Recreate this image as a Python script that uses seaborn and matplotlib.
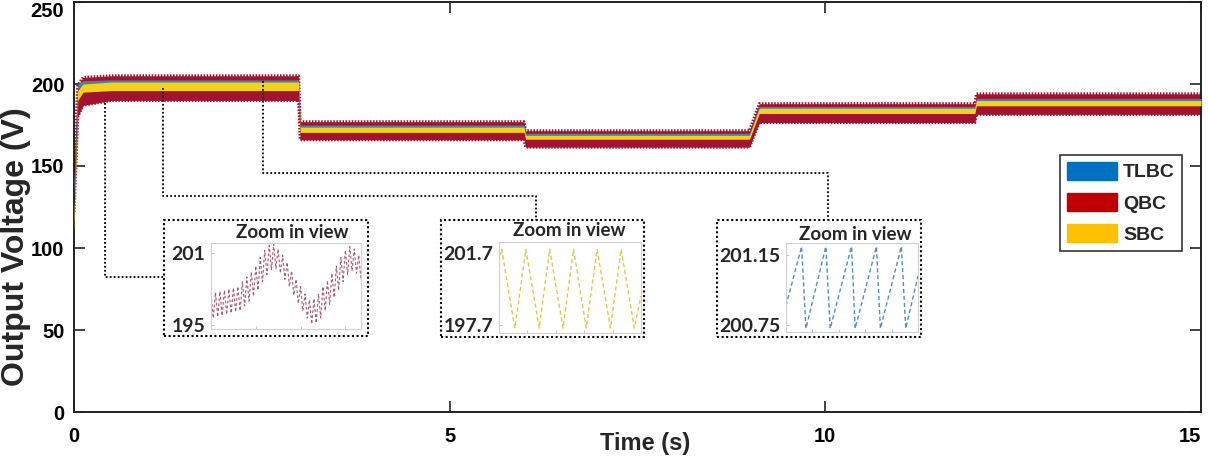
import numpy as np
import matplotlib
matplotlib.use("Agg")
import matplotlib.pyplot as plt
from matplotlib.patches import Patch, Rectangle
import seaborn as sns

# main trace, read as bands (ripple envelope) per converter
time_s = [0.0, 0.05, 0.12, 0.5, 2.99, 3.01, 5.99, 6.01, 8.99, 9.12, 11.99, 12.01, 15.0]
qbc_low = [122, 180, 187, 190, 190, 166, 166, 161.5, 161.5, 176.5, 176.5, 181.5, 181.5]
qbc_high = [150, 199, 204, 205, 205, 177, 177, 171.5, 171.5, 188, 188, 194, 194]
tlbc_low = [132, 197, 199, 199.5, 199.5, 172.5, 172.5, 167.5, 167.5, 183.5, 183.5, 188.5, 188.5]
tlbc_high = [140, 200, 202, 202.5, 202.5, 175, 175, 170, 170, 186.3, 186.3, 191.2, 191.2]
sbc_low = [110, 190, 195, 196, 196, 170.5, 170.5, 166.3, 166.3, 182, 182, 186.7, 186.7]
sbc_high = [120, 196, 200, 201.2, 201.2, 173.7, 173.7, 168.7, 168.7, 185.2, 185.2, 189.9, 189.9]

# zoom in views
qbc_zoom_peaks = [197.6, 197.7, 197.8, 197.9, 198.0, 198.1, 198.2, 198.6, 199.0, 199.4, 199.9, 200.6,
                  201.2, 201.6, 201.7, 201.3, 200.8, 200.2, 199.5, 198.8, 198.2, 197.6, 197.1, 197.2,
                  197.6, 198.2, 198.7, 199.3, 199.9, 200.6, 201.2, 201.5, 201.3, 200.8]
qbc_zoom_troughs = [195.6, 195.7, 195.8, 195.9, 196.0, 196.1, 196.2, 196.6, 197.0, 197.4, 197.9, 198.6,
                    199.2, 199.6, 199.7, 199.3, 198.8, 198.2, 197.5, 196.8, 196.2, 195.6, 195.1, 195.2,
                    195.6, 196.2, 196.7, 197.3, 197.9, 198.6, 199.2, 199.5, 199.3, 198.8]
sbc_zoom_x = [0, 0.019, 0.112, 0.189, 0.283, 0.357, 0.451, 0.525, 0.614, 0.691, 0.785, 0.860, 0.953, 1.0]
sbc_zoom_v = [201.5, 201.89, 197.53, 201.89, 197.53, 201.89, 197.53, 201.89, 197.53, 201.89, 197.53,
              201.89, 197.53, 199.3]
tlbc_zoom_x = [0, 0.118, 0.151, 0.302, 0.335, 0.496, 0.524, 0.685, 0.715, 0.874, 0.907, 1.0]
tlbc_zoom_v = [200.86, 201.2, 200.73, 201.2, 200.73, 201.2, 200.73, 201.2, 200.73, 201.2, 200.73, 201.03]

labels = ["TLBC", "QBC", "SBC"]
legend_colors = ["#0070C0", "#C00000", "#FFC000"]

sns.set_theme(style="ticks")
plt.rcParams["font.family"] = ["Liberation Sans", "DejaVu Sans"]

W, H = 1208, 468
def fx(px):
    return px / W
def fy(py):
    return 1 - py / H

fig = plt.figure(figsize=(12.08, 4.68), dpi=100)
ax = fig.add_axes([fx(74), fy(412), (1201 - 74) / W, (412 - 2) / H])

red = "#A3122F"
yel = "#F4D21A"
blu = "#3F86A8"
ax.fill_between(time_s, qbc_low, qbc_high, color=red, lw=0, zorder=2)
# ragged ripple edge
ax.plot(time_s, qbc_high, color=red, lw=2.2, ls=(0, (0.5, 0.5)), zorder=2)
ax.plot(time_s, qbc_low, color=red, lw=2.2, ls=(0, (0.5, 0.5)), zorder=2)
ax.fill_between(time_s, tlbc_low, tlbc_high, color=blu, lw=0, zorder=3)
ax.fill_between(time_s, sbc_low, sbc_high, color=yel, lw=0, zorder=4)

# dotted leaders to the zoom boxes
dot = dict(color="black", lw=1.3, ls=(0, (1, 1.2)), zorder=6)
ax.plot([0.41, 0.41, 1.198], [188.7, 82.3, 82.3], **dot)
ax.plot([1.19, 1.19, 6.15, 6.15], [197.7, 132, 132, 116.8], **dot)
ax.plot([2.52, 2.52, 10.03, 10.03], [202, 146, 146, 116.8], **dot)

ax.set_xlim(0, 15)
ax.set_ylim(0, 250)
ax.set_xticks([0, 5, 10, 15])
ax.set_yticks([0, 50, 100, 150, 200, 250])
ax.tick_params(direction="in", length=8, width=1.2, top=True, right=True,
               labelsize=14.5, colors="#222222")
ax.tick_params(axis="x", pad=11)
ax.tick_params(axis="y", pad=7)
for lbl in ax.get_xticklabels() + ax.get_yticklabels():
    lbl.set_fontweight("bold")
    lbl.set_color("black")
ax.get_xticklabels()[-1].set_ha("right")
ax.get_yticklabels()[-1].set_va("top")
for sp in ax.spines.values():
    sp.set_color("#222222")
    sp.set_linewidth(1.4)

ax.set_xlabel("Time (s)", fontsize=17, fontweight="bold", va="top")
ax.xaxis.set_label_coords((645 - 74) / 1127, -20 / 410)
ax.set_ylabel("Output Voltage (V)", fontsize=23, fontweight="bold")
ax.yaxis.set_label_coords((31 - 74) / 1127, (412 - 247) / 410)


def zoom_box(box, inner, title_xy, ylim, yticks, yticklabels):
    x0, y0, x1, y1 = box
    fig.patches.append(Rectangle((fx(x0), fy(y1)), (x1 - x0) / W, (y1 - y0) / H,
                                 transform=fig.transFigure, fill=False, ec="black",
                                 lw=1.5, ls=(0, (1, 1.2)), zorder=5))
    fig.text(fx(title_xy[0]), fy(title_xy[1]), "Zoom in view", ha="center", va="center",
             fontsize=13.5, fontweight="bold", family=["Lato", "DejaVu Sans"])
    a0, b0, a1, b1 = inner
    iax = fig.add_axes([fx(a0), fy(b1), (a1 - a0) / W, (b1 - b0) / H])
    iax.set_ylim(*ylim)
    iax.set_yticks(yticks)
    iax.set_yticklabels(yticklabels, fontsize=14, fontweight="bold",
                        family=["Lato", "DejaVu Sans"])
    iax.tick_params(direction="in", length=2, width=0.6, color="#bbbbbb", pad=4)
    for sp in iax.spines.values():
        sp.set_color("#d0d0d0")
        sp.set_linewidth(0.8)
    return iax


ax1 = zoom_box((164, 220, 368, 336), (211, 243, 361, 329), (292, 233),
               (194.7, 201.8), [195, 201], ["195", "201"])
qbc_zoom = [v for pair in zip(qbc_zoom_peaks, qbc_zoom_troughs) for v in pair]
sns.lineplot(x=np.arange(len(qbc_zoom)), y=qbc_zoom, ax=ax1, color="#9A3A5A",
             lw=0.8, ls=(0, (2.5, 2)), alpha=0.85)
ax1.set_xlim(0, len(qbc_zoom) - 1)
ax1.set_xticks([0, 20, 40, 60])
ax1.set_xticklabels([])

ax2 = zoom_box((441, 220, 644, 337), (499, 242, 641, 333), (569, 231),
               (197.26, 202.29), [197.7, 201.7], ["197.7", "201.7"])
sns.lineplot(x=sbc_zoom_x, y=sbc_zoom_v, ax=ax2, color="#E8C547", lw=1, ls=(0, (3, 2)))
ax2.set_xlim(0, 1)
ax2.set_xticks([0.2, 0.4, 0.6, 0.8])
ax2.set_xticklabels([])

ax3 = zoom_box((717, 220, 921, 337), (786, 243, 918, 332), (855, 234),
               (200.71, 201.22), [200.75, 201.15], ["200.75", "201.15"])
sns.lineplot(x=tlbc_zoom_x, y=tlbc_zoom_v, ax=ax3, color="#4A8FC0", lw=1, ls=(0, (3, 2)))
ax3.set_xlim(0, 1)
ax3.set_xticks([0.2, 0.4, 0.6, 0.8])
ax3.set_xticklabels([])

handles = [Patch(facecolor=c, edgecolor=c, label=l) for c, l in zip(legend_colors, labels)]
leg = fig.legend(handles=handles, loc="upper left", bbox_to_anchor=(fx(1060), fy(155)),
                 frameon=True, fancybox=False, edgecolor="black",
                 prop={"weight": "bold", "size": 14}, handlelength=2.6, handleheight=1.05,
                 handletextpad=0.3, labelspacing=0.6, borderpad=0.35, borderaxespad=0)
leg.get_frame().set_linewidth(1.2)

fig.savefig("out.png", dpi=100)
